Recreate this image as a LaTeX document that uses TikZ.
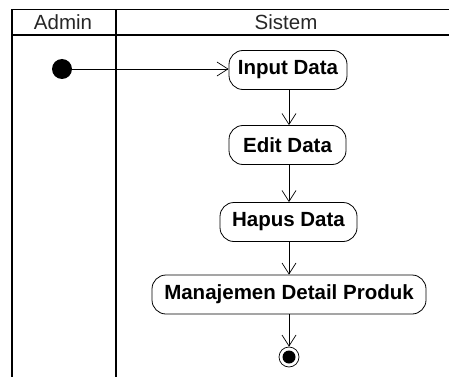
\documentclass[tikz,border=0pt]{standalone}
\usepackage{fontspec}
\setmainfont{Liberation Sans}
\usetikzlibrary{arrows.meta}
\begin{document}
\begin{tikzpicture}[x=1pt,y=-1pt,
 act/.style={draw, rounded corners=14pt, font=\fontsize{20.5}{22}\selectfont\bfseries, minimum height=39pt, inner xsep=3pt, line width=0.8pt},
 flow/.style={-{Straight Barb[length=11pt,width=14pt]}, line width=0.7pt},
 lane/.style={line width=1.6pt},
 hdr/.style={font=\fontsize{20.5}{22}\selectfont, text=black!85}]
\useasboundingbox (0,0) rectangle (449,377);
\draw[lane] (449,9.5) -- (12,9.5) -- (12,377);
\draw[lane] (12,35) -- (449,35);
\draw[lane] (116,9.5) -- (116,377);
\node[hdr] (hadmin) at (63,22.5) {Admin};
\node[hdr] (hsistem) at (286,22.5) {Sistem};
\node[circle, fill=black, inner sep=0pt, minimum size=20pt] (start) at (62,69) {};
\node[act, minimum width=118pt] (input) at (288,70) {Input Data};
\node[act, minimum width=117pt] (edit) at (287.5,145) {Edit Data};
\node[act, minimum width=137pt] (hapus) at (288.5,222) {Hapus Data};
\node[act, minimum width=274pt] (manaj) at (289,294.5) {Manajemen Detail Produk};
\node[circle, draw, line width=0.7pt, inner sep=0pt, minimum size=20pt] (end) at (289,357) {};
\node[circle, fill=black, inner sep=0pt, minimum size=13pt] (endin) at (end.center) {};
\draw[flow] (start) -- (input.west |- start);
\draw[flow] (input.south -| end) -- (edit.north -| end);
\draw[flow] (edit.south -| end) -- (hapus.north -| end);
\draw[flow] (hapus.south -| end) -- (manaj.north -| end);
\draw[flow] (manaj.south -| end) -- (end.north);
\end{tikzpicture}
\end{document}
